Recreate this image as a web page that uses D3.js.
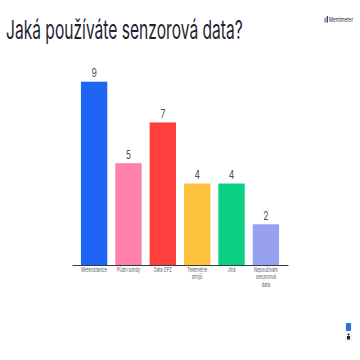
<!DOCTYPE html>
<html lang="cs">
<head>
<meta charset="utf-8">
<script src="https://cdnjs.cloudflare.com/ajax/libs/d3/7.8.5/d3.min.js"></script>
<style>
html, body { margin: 0; padding: 0; background: #fff; }
svg { display: block; }
text { font-family: Inter, "Noto Sans", sans-serif; }
</style>
</head>
<body>
<div id="chart"></div>
<script>
const chartTitle = "Jaká používáte senzorová data?"
const categories = ["Meteostanice", "Půdní sondy", "Data DPZ", "Telemetrie strojů", "Jiná", "Nepoužívám senzorová data"]
const responses = [9, 5, 7, 4, 4, 2]
const barColors = ["#1f65f5", "#ff80ab", "#ff3e3e", "#ffc23d", "#0bcf83", "#98a0f0"]
const inkColor = "#1f2430"

const svg = d3.select("#chart").append("svg")
    .attr("width", 360)
    .attr("height", 360)

svg.append("text")
    .attr("transform", "translate(6,39) scale(0.6,1)")
    .attr("font-size", 26)
    .attr("fill", inkColor)
    .text(chartTitle)

// Scales
const x = d3.scaleBand()
    .domain(categories)
    .range([72, 288])
    .paddingInner(0.233)
    .paddingOuter(0.26)
const y = d3.scaleLinear().domain([0, 9]).range([265, 81.7])

// Bars
svg.selectAll("rect.bar")
    .data(categories)
    .enter()
    .append("rect")
    .attr("class", "bar")
    .attr("x", function (d) { return x(d) })
    .attr("y", function (d, i) { return y(responses[i]) })
    .attr("width", x.bandwidth())
    .attr("height", function (d, i) { return y(0) - y(responses[i]) })
    .attr("fill", function (d, i) { return barColors[i] })

// Value labels
svg.selectAll("text.value")
    .data(categories)
    .enter()
    .append("text")
    .attr("class", "value")
    .attr("transform", function (d, i) {
        return "translate(" + (x(d) + x.bandwidth() / 2) + "," + (y(responses[i]) - 4.4) + ") scale(0.72,1)"
    })
    .attr("text-anchor", "middle")
    .attr("font-size", 12)
    .attr("fill", "#4a4f5a")
    .text(function (d, i) { return responses[i] })

// Axis with wrapped labels
const axis = svg.append("g")
    .attr("transform", "translate(0,265)")
    .call(d3.axisBottom(x).tickSize(0).tickPadding(3).tickSizeOuter(0))
axis.select(".domain").attr("stroke", inkColor).attr("stroke-width", 0.9)
axis.selectAll(".tick text").each(function (d) {
    const label = d3.select(this)
    const lines = (d === "Půdní sondy" || d === "Data DPZ") ? [d] : d.split(" ")
    label.text(null)
        .attr("font-size", 5.6)
        .attr("font-family", "Inter")
        .attr("fill", "#555a64")
        .attr("transform", "scale(0.72,1)")
    lines.forEach(function (word, i) {
        label.append("tspan")
            .attr("x", 0)
            .attr("dy", i === 0 ? "0.71em" : "1.34em")
            .text(word)
    })
})

// Mentimeter logo
const logo = svg.append("g")
const logoBars = [[324.5, "#1f65f5", 4.5], [325.7, "#ff80ab", 5.5], [326.9, "#3a3f70", 6.5]]
logo.selectAll("rect")
    .data(logoBars)
    .enter()
    .append("rect")
    .attr("x", function (d) { return d[0] })
    .attr("y", function (d) { return 22.5 - d[2] })
    .attr("width", 1.1)
    .attr("height", function (d) { return d[2] })
    .attr("fill", function (d) { return d[1] })
logo.append("text")
    .attr("transform", "translate(329,22.3) scale(0.8,1)")
    .attr("font-size", 5.6)
    .attr("fill", inkColor)
    .text("Mentimeter")

// Corner widget
svg.append("rect").attr("x", 345).attr("y", 322).attr("width", 7).attr("height", 20).attr("rx", 3).attr("fill", "#f4f4f6")
svg.append("rect").attr("x", 346).attr("y", 323).attr("width", 5).attr("height", 8).attr("rx", 1).attr("fill", "#2f6fe8")
svg.append("circle").attr("cx", 348.5).attr("cy", 334.5).attr("r", 1).attr("fill", "#222")
svg.append("rect").attr("x", 347).attr("y", 336).attr("width", 3).attr("height", 3.5).attr("fill", "#222")
</script>
</body>
</html>
